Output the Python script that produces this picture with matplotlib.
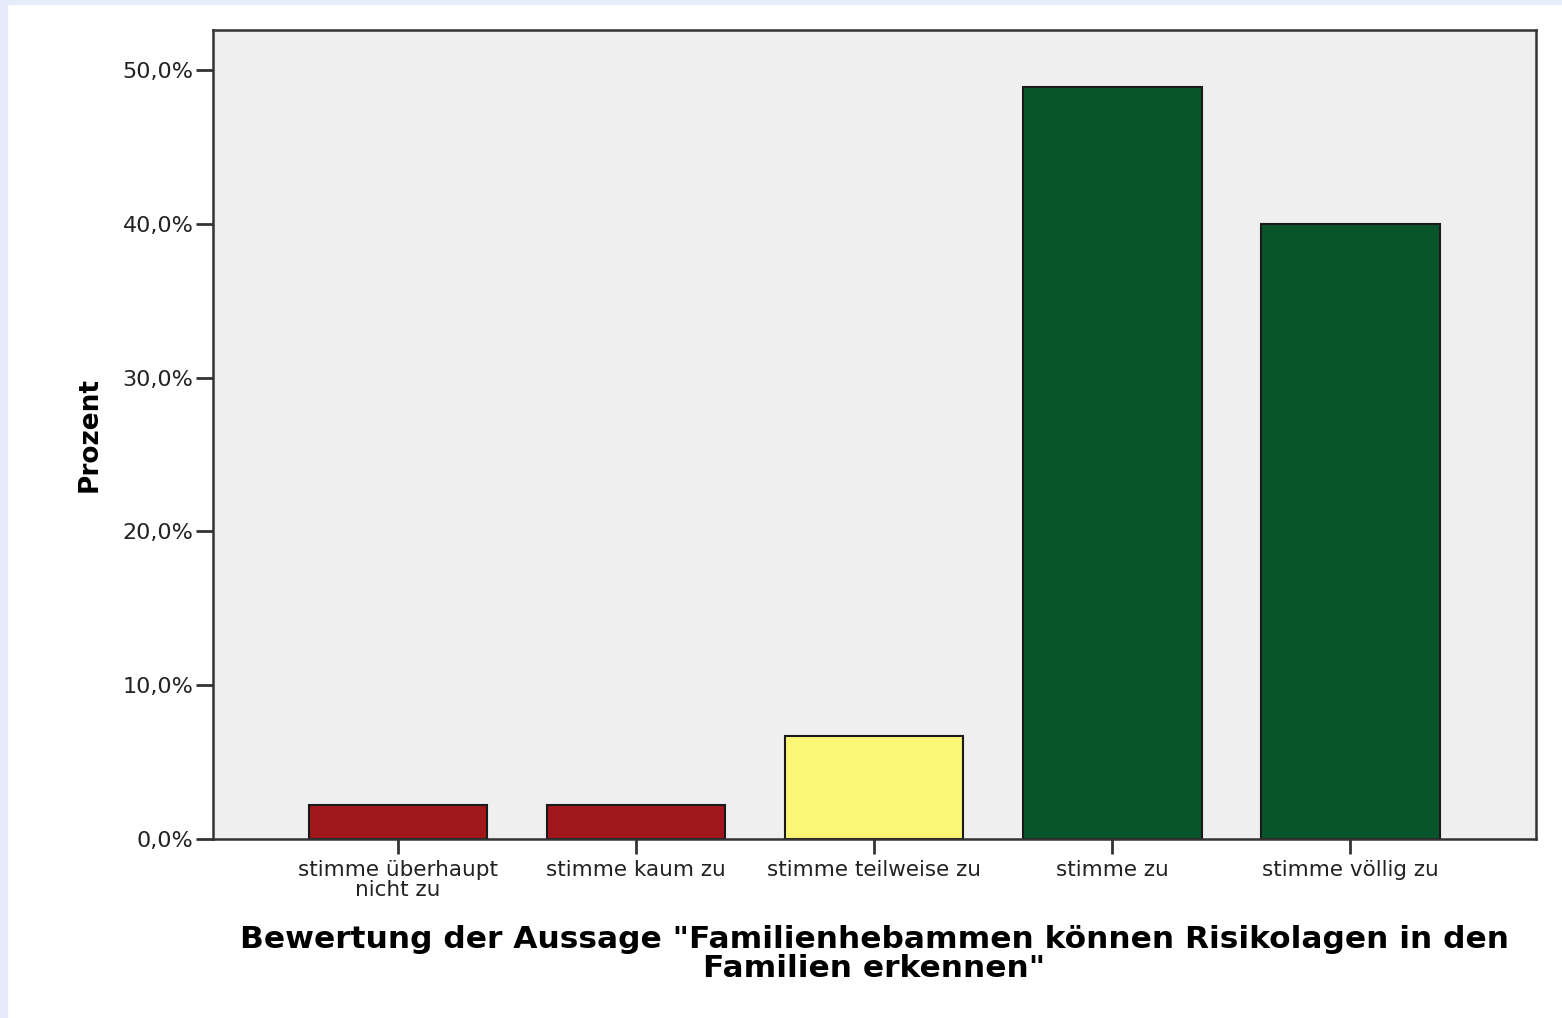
import matplotlib.pyplot as plt
from matplotlib.patches import Rectangle
from matplotlib.ticker import FuncFormatter

categories = ["stimme überhaupt\nnicht zu", "stimme kaum zu", "stimme teilweise zu",
              "stimme zu", "stimme völlig zu"]
percent = [2.2, 2.2, 6.7, 48.9, 40.0]
bar_colors = ["#a2171b", "#a2171b", "#fbf676", "#09552b", "#09552b"]
y_ticks = [0, 10, 20, 30, 40, 50]

fig = plt.figure(figsize=(15.62, 10.18), dpi=100)
fig.patch.set_facecolor("white")
# light blue frame of the screenshot
fig.patches.append(Rectangle((0, 0), 7 / 1562, 1, transform=fig.transFigure,
                             color="#e6ecfb", zorder=-1))
fig.patches.append(Rectangle((0, 1 - 4 / 1018), 1, 4 / 1018, transform=fig.transFigure,
                             color="#e6ecfb", zorder=-1))

ax = fig.add_axes([213 / 1562, 1 - 839 / 1018, (1536 - 213) / 1562, (839 - 30) / 1018])
ax.set_facecolor("#efefef")

x = list(range(len(categories)))
ax.bar(x, percent, width=0.75, color=bar_colors, edgecolor="#1a1a1a", linewidth=1.5, zorder=2)

ax.set_xlim(-0.777, 4.78)
ax.set_ylim(0, 52.6)
ax.set_yticks(y_ticks)
ax.yaxis.set_major_formatter(FuncFormatter(lambda v, _: f"{v:.1f}%".replace(".", ",")))
ax.set_xticks(x)
ax.set_xticklabels(categories, fontsize=15.5, color="#222222", linespacing=0.98)
ax.tick_params(axis="y", length=12, width=2, color="#333333", labelsize=16,
               labelcolor="#222222", pad=2)
ax.tick_params(axis="x", length=11, width=2, color="#333333", pad=4)

for side in ["left", "right", "top", "bottom"]:
    ax.spines[side].set_linewidth(1.8)
    ax.spines[side].set_color("#333333")

ax.set_ylabel("Prozent", fontsize=19, fontweight="bold", labelpad=14)
ax.set_xlabel('Bewertung der Aussage "Familienhebammen können Risikolagen in den\nFamilien erkennen"',
              fontsize=22.5, fontweight="bold", labelpad=18, linespacing=1.02)

fig.savefig("out.png", dpi=100)
